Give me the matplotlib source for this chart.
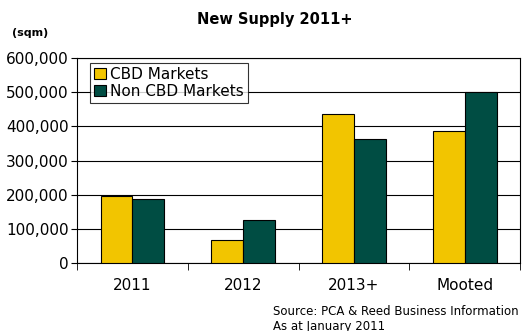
import matplotlib.pyplot as plt
import matplotlib.ticker as mticker
import numpy as np

categories = ["2011", "2012", "2013+", "Mooted"]
cbd = [196000, 68000, 437000, 386000]
non_cbd = [189000, 126000, 363000, 500000]

YELLOW = "#F2C500"
GREEN = "#004D43"

fig = plt.figure(figsize=(5.28, 3.31), dpi=100)
ax = fig.add_axes([0.146, 0.205, 0.839, 0.62])

x = np.arange(len(categories))
w = 0.288
ax.bar(x - w / 2, cbd, w, color=YELLOW, edgecolor="black", linewidth=0.8, label="CBD Markets", zorder=3)
ax.bar(x + w / 2, non_cbd, w, color=GREEN, edgecolor="black", linewidth=0.8, label="Non CBD Markets", zorder=3)

ax.set_xlim(-0.5, len(categories) - 0.5)
ax.set_ylim(0, 600000)
ax.yaxis.set_major_locator(mticker.MultipleLocator(100000))
ax.yaxis.set_major_formatter(mticker.FuncFormatter(lambda v, p: f"{int(v):,}"))
ax.grid(axis="y", color="black", linewidth=0.8, zorder=0)
ax.set_axisbelow(True)

ax.set_xticks(x)
ax.set_xticklabels(categories)
ax.xaxis.set_minor_locator(mticker.FixedLocator(np.arange(-0.5, len(categories), 1)))
ax.tick_params(axis="x", which="major", length=0, labelsize=11, pad=11)
ax.tick_params(axis="x", which="minor", length=5, direction="out")
ax.tick_params(axis="y", labelsize=11, length=4, pad=2)
for s in ax.spines.values():
    s.set_linewidth(0.8)

leg = ax.legend(loc="upper left", bbox_to_anchor=(0.03, 0.975), fontsize=11, frameon=True, fancybox=False,
                edgecolor="black", handlelength=0.75, handleheight=0.75, handletextpad=0.3,
                borderpad=0.25, labelspacing=0.15, borderaxespad=0)
leg.get_frame().set_linewidth(0.8)

fig.text(0.52, 0.94, "New Supply 2011+", ha="center", va="center", fontsize=10.5, fontweight="bold")
fig.text(0.022, 0.9, "(sqm)", ha="left", va="center", fontsize=8, fontweight="bold")
fig.text(0.517, 0.06, "Source: PCA & Reed Business Information", ha="left", va="center", fontsize=8.5)
fig.text(0.517, 0.015, "As at January 2011", ha="left", va="center", fontsize=8.5)

fig.savefig("out.png", dpi=100)
